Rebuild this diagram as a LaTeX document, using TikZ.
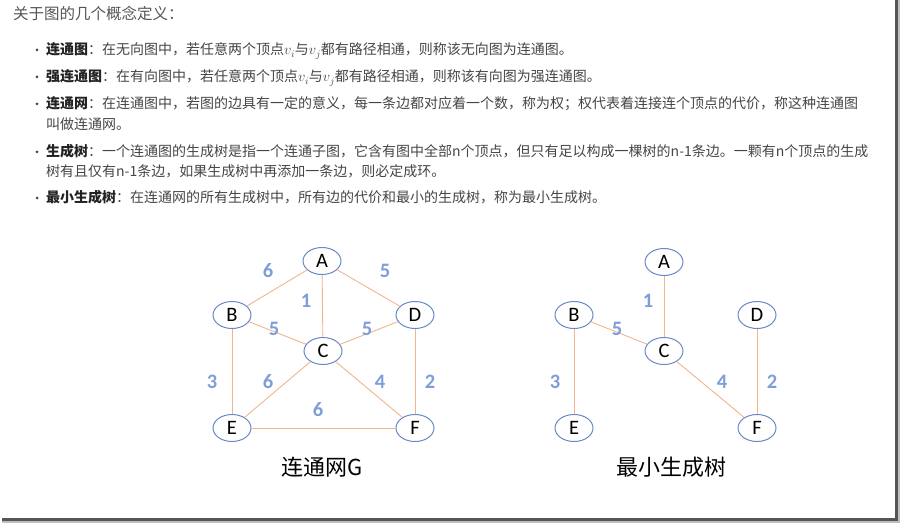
\documentclass[tikz,border=0pt]{standalone}
\usepackage{fontspec}
\setmainfont{Carlito}
\newfontfamily\cjk{Noto Sans CJK SC}
\usetikzlibrary{shapes.geometric}
\definecolor{txt}{HTML}{454545}
\definecolor{term}{HTML}{222222}
\definecolor{head}{HTML}{555555}
\definecolor{vblue}{HTML}{6A88C8}
\definecolor{eorange}{HTML}{F2B48A}
\definecolor{wblue}{HTML}{7E9ED9}
\definecolor{shadow}{HTML}{555555}
\begin{document}
\begin{tikzpicture}[x=1pt,y=-1pt,
  vtx/.style={ellipse, draw=vblue, line width=1pt, fill=white, minimum width=38pt, minimum height=27pt, inner sep=0pt, font=\fontsize{20.5}{20.5}\selectfont},
  edge/.style={draw=eorange, line width=0.9pt},
  wt/.style={text=wblue, inner sep=0pt, font=\fontsize{20.5}{20.5}\selectfont\bfseries},
  tline/.style={anchor=base west, inner sep=0pt, text=txt, font=\cjk\fontsize{14}{14}\selectfont},
  bul/.style={circle, fill=txt, inner sep=0pt, minimum size=3pt},
  gtitle/.style={inner sep=0pt, font=\cjk\fontsize{22}{22}\selectfont, text=black}
]
\useasboundingbox (0,0) rectangle (900,524);
% frame shadow
\fill[shadow] (895,0) rectangle (898,521);
\fill[shadow] (2,518) rectangle (898,521);
\fill[gray!50] (898,0) rectangle (900,523);
\fill[gray!50] (2,521) rectangle (900,523);

% heading
\node[anchor=base west, inner sep=0pt, text=head, font=\cjk\fontsize{15.5}{15.5}\selectfont] (hd) at (13,20) {关于图的几个概念定义：};

% bullets
\node[bul] (b1) at (37,50) {};
\node[bul] (b2) at (37,77) {};
\node[bul] (b3) at (37,104) {};
\node[bul] (b4) at (37,152) {};
\node[bul] (b5) at (37,198) {};

\node[tline] (l1) at (46,55) {{\bfseries\color{term}连通图}：在无向图中，若任意两个顶点\(v_i\)与\(v_j\)都有路径相通，则称该无向图为连通图。};
\node[tline] (l2) at (46,82) {{\bfseries\color{term}强连通图}：在有向图中，若任意两个顶点\(v_i\)与\(v_j\)都有路径相通，则称该有向图为强连通图。};
\node[tline] (l3) at (46,109) {{\bfseries\color{term}连通网}：在连通图中，若图的边具有一定的意义，每一条边都对应着一个数，称为权；权代表着连接连个顶点的代价，称这种连通图};
\node[tline] (l3b) at (46,130) {叫做连通网。};
\node[tline] (l4) at (46,157) {{\bfseries\color{term}生成树}：一个连通图的生成树是指一个连通子图，它含有图中全部n个顶点，但只有足以构成一棵树的n-1条边。一颗有n个顶点的生成};
\node[tline] (l4b) at (46,176) {树有且仅有n-1条边，如果生成树中再添加一条边，则必定成环。};
\node[tline] (l5) at (46,202) {{\bfseries\color{term}最小生成树}：在连通网的所有生成树中，所有边的代价和最小的生成树，称为最小生成树。};

% left graph
\node[vtx] (A) at (322,261) {A};
\node[vtx] (B) at (232,315) {B};
\node[vtx] (D) at (415,315) {D};
\node[vtx] (C) at (323,351) {C};
\node[vtx] (E) at (232,428) {E};
\node[vtx] (F) at (415,428) {F};
\draw[edge] (A) -- (B);
\draw[edge] (A) -- (C);
\draw[edge] (A) -- (D);
\draw[edge] (B) -- (C);
\draw[edge] (C) -- (D);
\draw[edge] (B) -- (E);
\draw[edge] (C) -- (E);
\draw[edge] (C) -- (F);
\draw[edge] (D) -- (F);
\draw[edge] (E) -- (F);
\node[wt] (w1) at (268,271) {6};
\node[wt] (w2) at (385,271) {5};
\node[wt] (w3) at (306,301) {1};
\node[wt] (w4) at (274,329) {5};
\node[wt] (w5) at (367,329) {5};
\node[wt] (w6) at (212,382) {3};
\node[wt] (w7) at (268,382) {6};
\node[wt] (w8) at (380,382) {4};
\node[wt] (w9) at (430,382) {2};
\node[wt] (w10) at (318,410) {6};
\node[gtitle] (t1) at (322,467) {连通网G};

% right graph
\node[vtx] (A2) at (664,262) {A};
\node[vtx] (B2) at (574,315) {B};
\node[vtx] (D2) at (757,315) {D};
\node[vtx] (C2) at (664,351) {C};
\node[vtx] (E2) at (574,428) {E};
\node[vtx] (F2) at (757,428) {F};
\draw[edge] (A2) -- (C2);
\draw[edge] (B2) -- (C2);
\draw[edge] (B2) -- (E2);
\draw[edge] (C2) -- (F2);
\draw[edge] (D2) -- (F2);
\node[wt] (x1) at (648,301) {1};
\node[wt] (x2) at (617,329) {5};
\node[wt] (x3) at (555,382) {3};
\node[wt] (x4) at (722,382) {4};
\node[wt] (x5) at (772,382) {2};
\node[gtitle] (t2) at (671,467) {最小生成树};
\end{tikzpicture}
\end{document}
